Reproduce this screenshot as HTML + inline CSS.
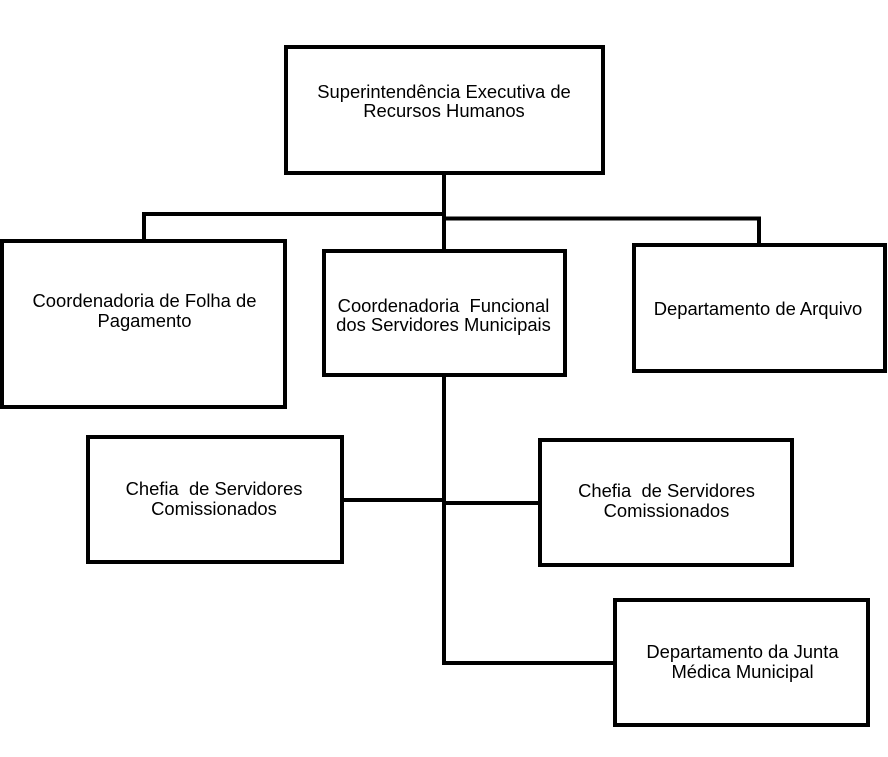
<!DOCTYPE html>
<html>
<head>
<meta charset="utf-8">
<style>
  html, body { margin: 0; padding: 0; background: #fff; }
  body { width: 888px; height: 757px; overflow: hidden; }
  svg { display: block; }
  text { font-family: "Liberation Sans", Arial, sans-serif; font-size: 18.4px; fill: #000; white-space: pre; }
</style>
</head>
<body>
<svg width="888" height="757" viewBox="0 0 888 757" xmlns="http://www.w3.org/2000/svg">
  <rect x="0" y="0" width="888" height="757" fill="#fff"/>
  <!-- connectors -->
  <g stroke="#000" stroke-width="4" fill="none">
    <line x1="444" y1="173" x2="444" y2="252"/>
    <line x1="142" y1="214" x2="446" y2="214"/>
    <line x1="144" y1="212" x2="144" y2="242"/>
    <line x1="444" y1="218.5" x2="761" y2="218.5"/>
    <line x1="759" y1="217" x2="759" y2="246"/>
    <line x1="444" y1="375" x2="444" y2="665"/>
    <line x1="342" y1="500" x2="446" y2="500"/>
    <line x1="442" y1="503" x2="541" y2="503"/>
    <line x1="442" y1="663" x2="616" y2="663"/>
  </g>
  <!-- boxes -->
  <g stroke="#000" stroke-width="4" fill="#fff">
    <rect x="286" y="47" width="317" height="126"/>
    <rect x="2" y="241" width="283" height="166"/>
    <rect x="324" y="251" width="241" height="124"/>
    <rect x="634" y="245" width="251" height="126"/>
    <rect x="88" y="437" width="254" height="125"/>
    <rect x="540" y="440" width="252" height="125"/>
    <rect x="615" y="600" width="253" height="125"/>
  </g>
  <!-- labels -->
  <g text-anchor="middle">
    <text x="444" y="98">Superintendência Executiva de</text>
    <text x="444" y="117">Recursos Humanos</text>

    <text x="144.5" y="307">Coordenadoria de Folha de</text>
    <text x="144.5" y="327">Pagamento</text>

    <text x="443.5" y="312">Coordenadoria  Funcional</text>
    <text x="443.5" y="331">dos Servidores Municipais</text>

    <text x="758" y="315">Departamento de Arquivo</text>

    <text x="214" y="495">Chefia  de Servidores</text>
    <text x="214" y="515">Comissionados</text>

    <text x="666.5" y="497">Chefia  de Servidores</text>
    <text x="666.5" y="517">Comissionados</text>

    <text x="742.5" y="658">Departamento da Junta</text>
    <text x="742.5" y="678">Médica Municipal</text>
  </g>
</svg>
</body>
</html>
